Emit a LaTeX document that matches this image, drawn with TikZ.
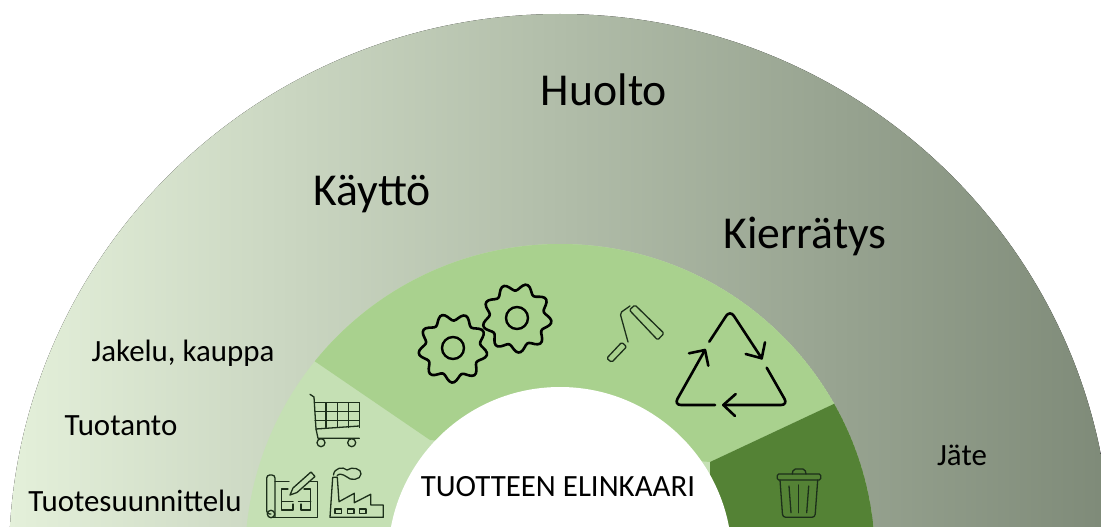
\documentclass[tikz,border=0pt]{standalone}
\usepackage{fontspec}
\setmainfont{Carlito}
\definecolor{ringlight}{HTML}{C5E0B4}
\definecolor{ringmid}{HTML}{A9D18E}
\definecolor{ringdark}{HTML}{548235}
\definecolor{iconink}{HTML}{1C2F1A}
\definecolor{bandleft}{RGB}{228,240,218}
\definecolor{bandmid}{RGB}{197,211,183}
\definecolor{bandright}{RGB}{126,138,120}
\tikzset{
biglabel/.style={inner sep=0pt,font=\fontsize{45.7}{46}\selectfont},
smalllabel/.style={inner sep=0pt,font=\fontsize{30.9}{31}\selectfont},
iconline/.style={draw=iconink,line width=1.3pt,line join=round,line cap=round},
cycleline/.style={draw=black,line width=2.6pt,line join=round,line cap=round,rounded corners=7pt},
cyclehead/.style={draw=black,line width=2.6pt,line join=round,line cap=round}
}
\newcommand{\gearicon}[3]{\draw[line width=2.6pt,line join=round]
plot[smooth cycle,domain=0:356,samples=90]({#1+(31+3.6*cos(9*\x+#3))*cos(\x)},{#2+(31+3.6*cos(9*\x+#3))*sin(\x)});
\draw[line width=2.4pt](#1,#2)circle(11);}
\begin{document}
\begin{tikzpicture}[x=1pt,y=-1pt]
\pgfmathsetmacro{\kcx}{560}
\pgfmathsetmacro{\kcy}{559}
\useasboundingbox(0,0)rectangle(1101,527);
\clip(0,0)rectangle(1101,527);
\fill[left color=bandleft,middle color=bandmid,right color=bandright](\kcx,\kcy)ellipse[x radius=551,y radius=545];
\begin{scope}
\clip(\kcx,\kcy)circle(315);
\fill[ringlight](\kcx,\kcy)circle(315);
\fill[ringmid](280,337.5)--(430,440)--(710,462)--(870,387)--(870,200)--(280,200)--cycle;
\fill[ringdark](710,462)--(870,387)--(900,540)--(710,540)--cycle;
\end{scope}
\fill[white](\kcx,\kcy)circle(172);
\gearicon{453}{348}{-100}
\gearicon{517}{318}{-60}
\draw[iconline,rounded corners=1.5pt](629.3,310)--(635,305)--(664,333.3)--(657.7,340)--cycle;
\draw[iconline,rounded corners=1.5pt](606.7,358.3)--(611.7,362.3)--(626.7,346.7)--(621.7,342.3)--cycle;
\draw[iconline,rounded corners=2pt](630,306)--(620,313)--(628,342);
\draw[cycleline](709.3,341.7)--(730,310)--(761.7,358.3);
\draw[cyclehead](765,342.3)--(761.7,358.3)--(745.7,354);
\draw[cycleline](766.7,367.7)--(788,405)--(723.3,405);
\draw[cyclehead](735.7,394)--(723.3,405)--(735,416);
\draw[cycleline](715,405)--(674,405)--(705,350);
\draw[cyclehead](689,353.3)--(705,350)--(708.3,365.7);
\foreach \kx in {326,337.7,348.3,359.3}{\draw[iconline](\kx,402.7)--(\kx,427.5);}
\foreach \ky in {402.7,411.7,420.4}{\draw[iconline](315,\ky)--(359.3,\ky);}
\draw[iconline](316,429)--(359.3,426);
\draw[iconline](310,394.3)--(314,397)--(316,429)--(318,438.3)--(359.3,438.3);
\draw[iconline](321,442.7)circle(4);
\draw[iconline](351.7,442.7)circle(4);
\draw[iconline,rounded corners=3pt](271,514)--(266.7,514)--(266.7,475)--(275,475)--(275,517.3);
\draw[iconline](271,514)circle(3.7);
\draw[iconline](275,481.7)--(289,481.7);
\draw[iconline](309,481.7)--(317.3,481.7)--(317.3,517.3)--(270,517.3);
\draw[iconline](290,495)--(293,488)--(311,472)--(315,476.5)--(297,492.5)--cycle;
\draw[iconline](288,489)--(281.7,489)--(281.7,510)--(293,510)--(293,504)(281.7,501.7)--(293,501.7)(301,504)--(301,510)--(310.7,510)--(310.7,489)--(304,489)(298.5,501.7)--(310.7,501.7);
\draw[iconline](330,517.3)--(332.7,477.3)--(337.3,477.3)--(339,501.7)--(354.3,493.3)--(354.3,502.7)--(370.7,494.3)--(370.7,505)--(383.3,505)--(383.3,517.3)--cycle;
\foreach \kx in {335,347.3,359.3}{\draw[iconline](\kx,509)rectangle++(6.7,4.3);}
\draw[iconline](333.5,475)..controls(334,468)and(343,466)..(347,470)..controls(352,466)and(362,469)..(361,474)..controls(361,480)and(350,481)..(347,477)..controls(343,474)and(338,473)..(337,476);
\draw[iconline,rounded corners=1.5pt](777.3,474)rectangle(820.7,480);
\draw[iconline,rounded corners=2pt](792.3,474)--(793.3,469)--(805,469)--(806,474);
\draw[iconline,rounded corners=3pt](780,480)--(782.7,517.3)--(815,517.3)--(817.7,480);
\draw[iconline](789,486)--(791,512.7);
\draw[iconline](798.7,485)--(798.7,512.7);
\draw[iconline](808.7,486)--(806.7,512.7);
\node[biglabel](huolto)at(604,90){Huolto};
\node[biglabel](kaytto)at(372,194){Käyttö};
\node[biglabel](kierratys)at(805,236){Kierrätys};
\node[smalllabel](jakelu)at(183,353){Jakelu, kauppa};
\node[smalllabel](tuotanto)at(121,426){Tuotanto};
\node[smalllabel](suunnittelu)at(135,501){Tuotesuunnittelu};
\node[smalllabel](elinkaari)at(558,487){TUOTTEEN ELINKAARI};
\node[smalllabel](jate)at(962,455){Jäte};
\end{tikzpicture}
\end{document}
